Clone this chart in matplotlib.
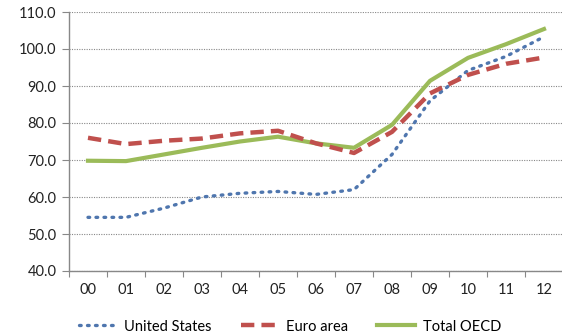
import matplotlib
matplotlib.use("Agg")
import matplotlib.pyplot as plt
import numpy as np

years = ["00", "01", "02", "03", "04", "05", "06", "07", "08", "09", "10", "11", "12"]
us = [54.5, 54.5, 57.0, 60.0, 61.0, 61.5, 60.7, 62.0, 71.5, 86.0, 94.2, 98.0, 103.3]
euro = [76.0, 74.3, 75.2, 75.8, 77.2, 77.9, 74.5, 71.9, 77.6, 88.0, 93.0, 96.0, 97.7]
oecd = [69.8, 69.7, 71.5, 73.3, 75.0, 76.3, 74.5, 73.3, 79.5, 91.4, 97.6, 101.3, 105.4]
yticks = [40, 50, 60, 70, 80, 90, 100, 110]

plt.rcParams['font.family'] = ['Lato', 'DejaVu Sans']

fig = plt.figure(figsize=(5.62, 3.35), dpi=100)
ax = fig.add_axes([69/562, (335-271)/335, (563-69)/562, (271-12)/335])

x = np.arange(len(years))
ax.plot(x, us, color="#4F76AE", linestyle=(0, (0.5, 1.9)), linewidth=2.4,
        dash_capstyle="round", label="United States", zorder=3)
ax.plot(x, euro, color="#C0504D", linestyle=(0, (3, 1.6)), linewidth=3.2,
        label="Euro area", zorder=3)
ax.plot(x, oecd, color="#9BBB59", linewidth=3.0, label="Total OECD", zorder=2)

ax.set_xlim(-0.5, len(years) - 0.5)
ax.set_ylim(40, 110)
ax.set_yticks(yticks)
ax.set_yticklabels([f"{v:.1f}" for v in yticks], fontsize=10.5, color="#222222")
ax.yaxis.grid(True, linestyle=(0, (1, 1.2)), color="#888888", linewidth=0.8)
ax.set_axisbelow(True)

ax.set_xticks(np.arange(-0.5, len(years), 1.0))
ax.set_xticklabels([])
ax.set_xticks(x, minor=True)
ax.set_xticklabels(years, minor=True, fontsize=10.5, color="#222222")
ax.tick_params(axis="x", which="major", length=4, direction="out", color="#888888")
ax.tick_params(axis="x", which="minor", length=0, pad=9)
ax.tick_params(axis="y", length=5, direction="out", color="#888888", pad=4)

for s in ["top", "right"]:
    ax.spines[s].set_visible(False)
for s in ["left", "bottom"]:
    ax.spines[s].set_color("#888888")
    ax.spines[s].set_linewidth(1.0)

fig.legend(loc="lower center", ncol=3, frameon=False, fontsize=10.5,
           handlelength=2.6, columnspacing=2.0, handletextpad=0.5,
           bbox_to_anchor=(0.516, -0.035))

fig.savefig("out.png", dpi=100)
